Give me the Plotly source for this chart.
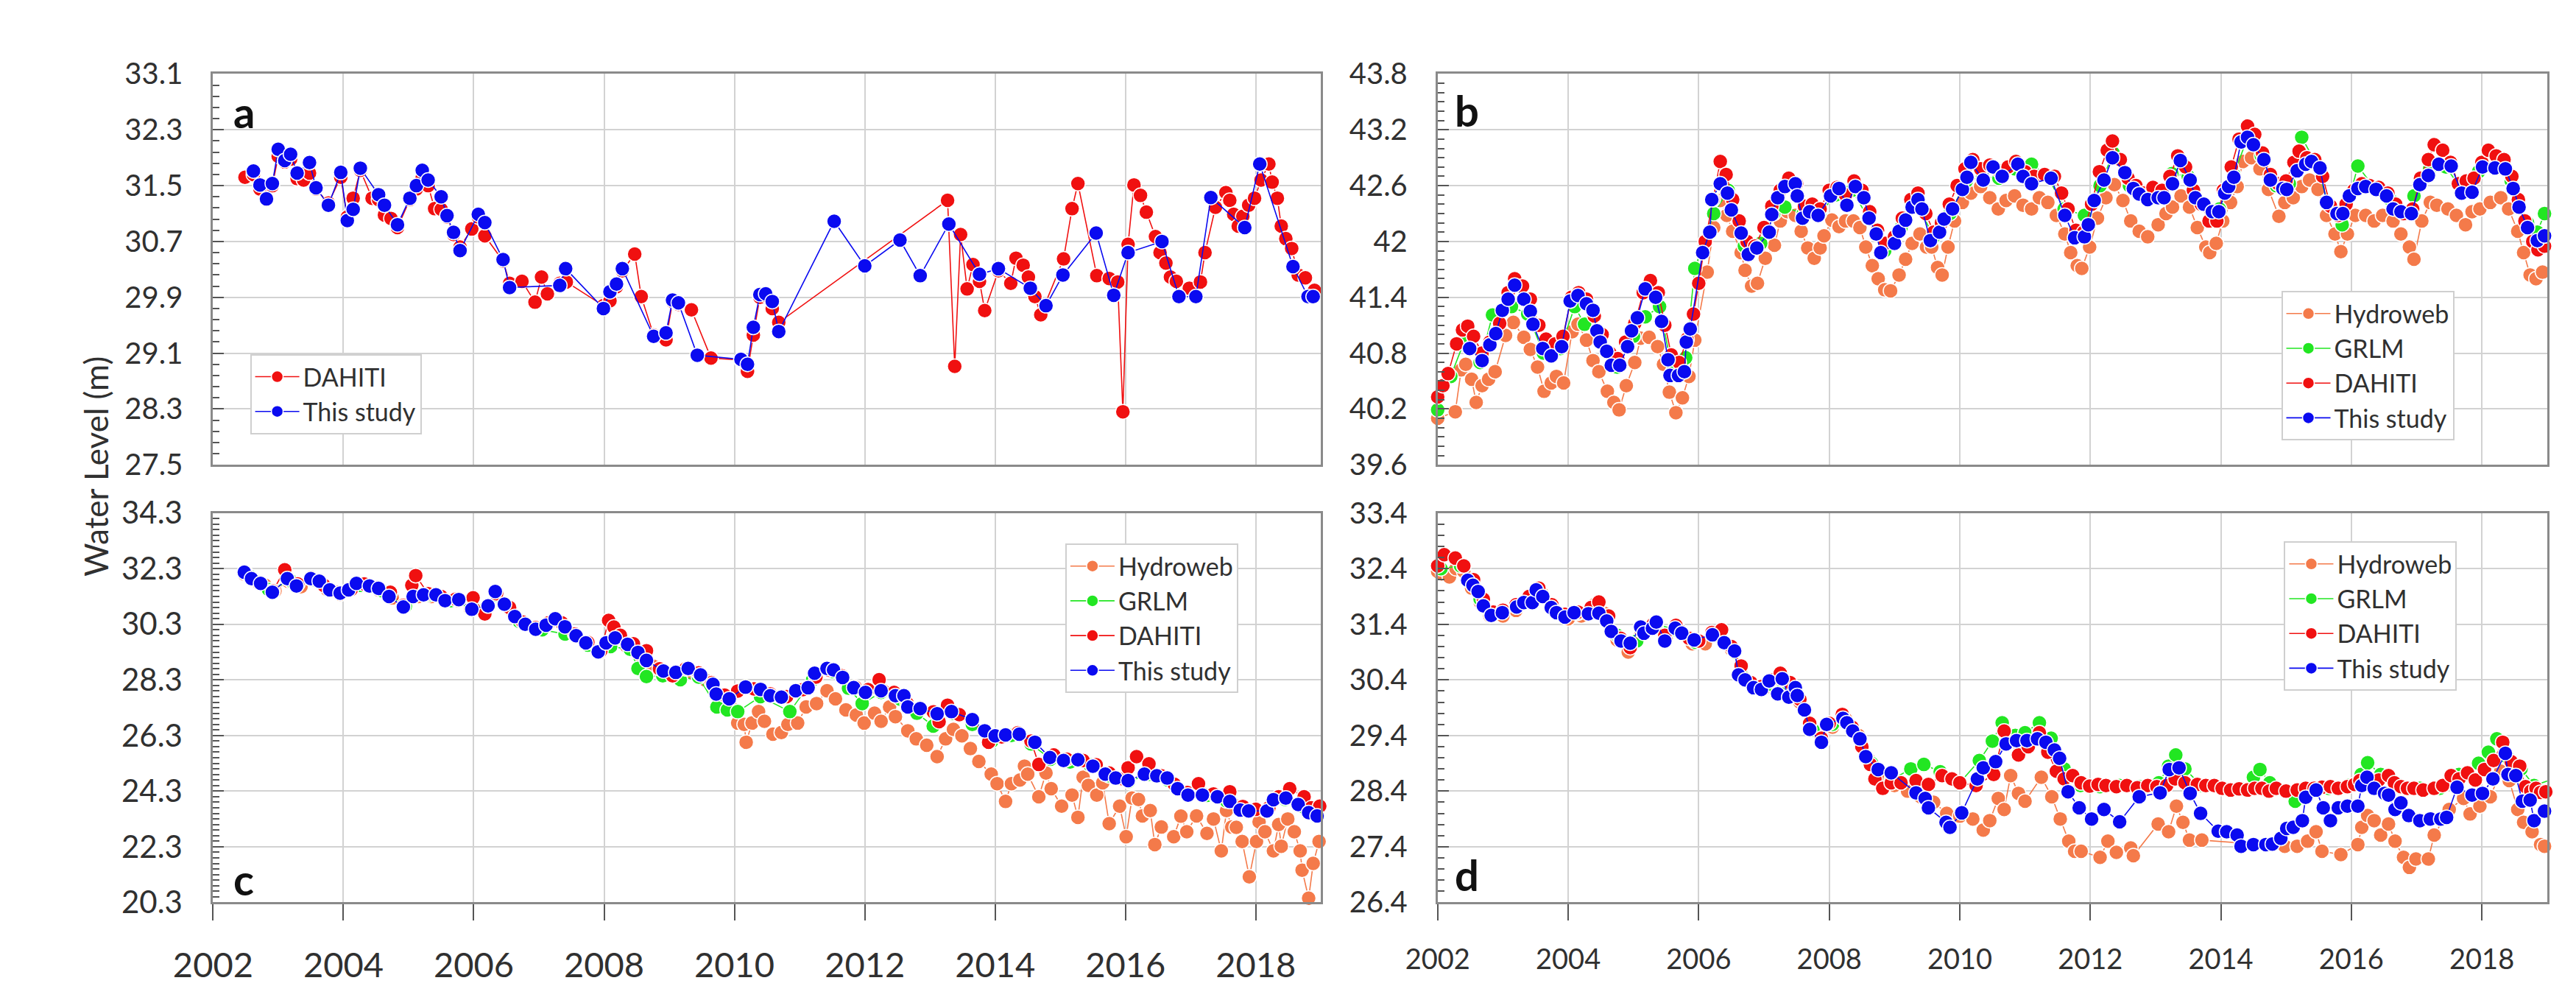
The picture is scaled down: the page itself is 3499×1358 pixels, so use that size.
import plotly.graph_objects as go

# ------------------------------------------------------------------ data
# (decimal year, water level in m)
A_DAHITI = [
    (2002.49, 31.62), (2002.62, 31.66), (2002.72, 31.45), (2002.82, 31.30), (2002.91, 31.50),
    (2003.00, 31.92), (2003.10, 31.84), (2003.19, 31.88), (2003.29, 31.60), (2003.39, 31.58),
    (2003.48, 31.68), (2003.58, 31.45), (2003.77, 31.25), (2003.96, 31.62), (2004.06, 31.05),
    (2004.15, 31.32), (2004.26, 31.72), (2004.44, 31.32), (2004.54, 31.30), (2004.63, 31.08),
    (2004.73, 31.03), (2004.83, 30.90), (2005.02, 31.30), (2005.12, 31.45), (2005.21, 31.62),
    (2005.30, 31.50), (2005.40, 31.17), (2005.50, 31.16), (2005.59, 31.05), (2005.69, 30.80),
    (2005.79, 30.62), (2005.97, 30.88), (2006.07, 31.05), (2006.17, 30.78), (2006.45, 30.42),
    (2006.55, 30.10), (2006.74, 30.13), (2006.94, 29.83), (2007.04, 30.19), (2007.13, 29.95),
    (2007.32, 30.10), (2007.42, 30.12), (2007.99, 29.78), (2008.09, 29.85), (2008.19, 30.05),
    (2008.28, 30.28), (2008.47, 30.52), (2008.57, 29.91), (2008.76, 29.36), (2008.95, 29.29),
    (2009.05, 29.84), (2009.14, 29.80), (2009.34, 29.72), (2009.64, 29.03), (2010.10, 29.00),
    (2010.20, 28.84), (2010.29, 29.36), (2010.39, 29.90), (2010.48, 29.93), (2010.58, 29.74),
    (2010.68, 29.54), (2013.27, 31.29), (2013.38, 28.91), (2013.47, 30.80), (2013.57, 30.02),
    (2013.66, 30.37), (2013.76, 30.13), (2013.84, 29.71), (2014.05, 30.28), (2014.24, 30.10),
    (2014.32, 30.46), (2014.43, 30.36), (2014.51, 30.19), (2014.61, 29.91), (2014.70, 29.65),
    (2015.05, 30.45), (2015.18, 31.17), (2015.27, 31.53), (2015.56, 30.21), (2015.75, 30.17),
    (2015.88, 30.12), (2015.96, 28.26), (2016.04, 30.66), (2016.13, 31.51), (2016.23, 31.36),
    (2016.32, 31.12), (2016.46, 30.77), (2016.53, 30.54), (2016.62, 30.39), (2016.69, 30.19),
    (2016.78, 30.13), (2016.98, 30.03), (2017.15, 30.12), (2017.22, 30.54), (2017.38, 31.19),
    (2017.54, 31.40), (2017.60, 31.29), (2017.66, 31.09), (2017.73, 30.92), (2017.80, 31.06),
    (2017.89, 31.22), (2017.98, 31.32), (2018.08, 31.58), (2018.20, 31.81), (2018.25, 31.55),
    (2018.33, 31.32), (2018.39, 30.92), (2018.46, 30.74), (2018.55, 30.60), (2018.65, 30.22),
    (2018.76, 30.18), (2018.90, 30.00),
]
A_THIS = [
    (2002.62, 31.71), (2002.72, 31.51), (2002.82, 31.31), (2002.91, 31.53), (2003.00, 32.02),
    (2003.10, 31.86), (2003.19, 31.95), (2003.29, 31.68), (2003.48, 31.83), (2003.58, 31.47),
    (2003.77, 31.22), (2003.96, 31.69), (2004.06, 31.00), (2004.15, 31.16), (2004.26, 31.75),
    (2004.54, 31.37), (2004.63, 31.22), (2004.83, 30.94), (2005.02, 31.32), (2005.12, 31.50),
    (2005.21, 31.72), (2005.30, 31.58), (2005.50, 31.34), (2005.59, 31.07), (2005.69, 30.83),
    (2005.79, 30.57), (2006.07, 31.09), (2006.17, 30.97), (2006.45, 30.44), (2006.55, 30.04),
    (2007.32, 30.07), (2007.41, 30.31), (2007.99, 29.74), (2008.09, 29.98), (2008.19, 30.09),
    (2008.28, 30.31), (2008.76, 29.34), (2008.95, 29.39), (2009.05, 29.86), (2009.14, 29.82),
    (2009.43, 29.07), (2010.10, 29.01), (2010.20, 28.94), (2010.29, 29.47), (2010.39, 29.94),
    (2010.48, 29.95), (2010.58, 29.84), (2010.68, 29.41), (2011.53, 30.99), (2012.00, 30.35),
    (2012.54, 30.72), (2012.85, 30.21), (2013.29, 30.95), (2013.76, 30.23), (2014.05, 30.31),
    (2014.54, 30.03), (2014.78, 29.78), (2015.04, 30.22), (2015.55, 30.82), (2015.82, 29.93),
    (2016.04, 30.54), (2016.56, 30.70), (2016.82, 29.91), (2017.08, 29.91), (2017.31, 31.33),
    (2017.83, 30.90), (2018.06, 31.81), (2018.57, 30.34), (2018.80, 29.91), (2018.88, 29.91),
]

B_HYDROWEB = [
    (2002.00, 40.10), (2002.27, 40.17), (2002.36, 40.62), (2002.43, 40.68), (2002.52, 40.52),
    (2002.59, 40.27), (2002.68, 40.45), (2002.78, 40.52), (2002.88, 40.60), (2003.04, 40.99),
    (2003.16, 41.13), (2003.32, 40.97), (2003.42, 40.84), (2003.53, 40.65), (2003.63, 40.39),
    (2003.74, 40.48), (2003.82, 40.55), (2003.93, 40.48), (2004.06, 41.03), (2004.15, 41.11),
    (2004.28, 40.94), (2004.38, 40.72), (2004.47, 40.60), (2004.60, 40.39), (2004.70, 40.27),
    (2004.78, 40.19), (2004.89, 40.45), (2005.02, 40.70), (2005.11, 40.96), (2005.24, 40.97),
    (2005.37, 40.87), (2005.46, 40.68), (2005.55, 40.38), (2005.65, 40.16), (2005.75, 40.32),
    (2005.85, 40.55), (2005.94, 40.94), (2006.13, 41.67), (2006.23, 42.15), (2006.33, 42.44),
    (2006.43, 42.28), (2006.52, 42.11), (2006.65, 41.88), (2006.71, 41.69), (2006.81, 41.52),
    (2006.90, 41.55), (2007.02, 41.82), (2007.16, 41.96), (2007.25, 42.22), (2007.36, 42.32),
    (2007.48, 42.28), (2007.57, 42.11), (2007.67, 41.93), (2007.77, 41.82), (2007.86, 41.93),
    (2007.92, 42.06), (2008.04, 42.23), (2008.15, 42.16), (2008.25, 42.22), (2008.37, 42.22),
    (2008.47, 42.15), (2008.56, 41.94), (2008.66, 41.74), (2008.75, 41.60), (2008.85, 41.48),
    (2008.94, 41.47), (2009.07, 41.64), (2009.17, 41.81), (2009.27, 41.98), (2009.39, 42.08),
    (2009.49, 41.94), (2009.57, 41.94), (2009.66, 41.72), (2009.73, 41.64), (2009.82, 41.94),
    (2009.92, 42.22), (2010.04, 42.42), (2010.17, 42.52), (2010.32, 42.59), (2010.46, 42.47),
    (2010.59, 42.35), (2010.71, 42.44), (2010.84, 42.49), (2010.97, 42.39), (2011.10, 42.35),
    (2011.22, 42.47), (2011.35, 42.42), (2011.48, 42.28), (2011.61, 42.08), (2011.70, 41.88),
    (2011.80, 41.74), (2011.87, 41.71), (2011.99, 41.94), (2012.11, 42.25), (2012.24, 42.47),
    (2012.37, 42.61), (2012.50, 42.44), (2012.62, 42.22), (2012.75, 42.11), (2012.88, 42.05),
    (2013.04, 42.18), (2013.16, 42.30), (2013.26, 42.37), (2013.39, 42.49), (2013.52, 42.37),
    (2013.64, 42.15), (2013.77, 41.94), (2013.83, 41.88), (2013.93, 41.98), (2014.03, 42.22),
    (2014.15, 42.42), (2014.25, 42.59), (2014.34, 42.86), (2014.47, 42.90), (2014.60, 42.78),
    (2014.73, 42.56), (2014.89, 42.27), (2014.98, 42.42), (2015.11, 42.47), (2015.24, 42.59),
    (2015.36, 42.66), (2015.49, 42.56), (2015.62, 42.28), (2015.75, 42.08), (2015.84, 41.89),
    (2015.94, 42.08), (2016.06, 42.28), (2016.22, 42.28), (2016.35, 42.22), (2016.48, 42.28),
    (2016.64, 42.22), (2016.76, 42.08), (2016.89, 41.94), (2016.96, 41.81), (2017.08, 42.22),
    (2017.21, 42.42), (2017.31, 42.39), (2017.48, 42.35), (2017.61, 42.28), (2017.75, 42.18),
    (2017.85, 42.32), (2017.97, 42.35), (2018.13, 42.42), (2018.29, 42.47), (2018.41, 42.35),
    (2018.55, 42.11), (2018.64, 41.88), (2018.74, 41.64), (2018.83, 41.60), (2018.93, 41.67),
]
B_GRLM = [
    (2002.00, 40.19), (2002.20, 40.55), (2002.42, 40.95), (2002.65, 40.70), (2002.84, 41.21),
    (2003.13, 41.30), (2003.38, 41.22), (2003.62, 40.80), (2003.88, 40.85), (2004.10, 41.30),
    (2004.25, 41.11), (2004.50, 40.95), (2004.75, 40.65), (2005.00, 40.98), (2005.18, 41.19),
    (2005.40, 41.30), (2005.60, 40.60), (2005.80, 40.75), (2005.94, 41.71), (2006.23, 42.30),
    (2006.45, 42.55), (2006.70, 41.95), (2006.95, 41.98), (2007.15, 42.30), (2007.32, 42.37),
    (2007.60, 42.30), (2007.85, 42.30), (2008.10, 42.50), (2008.35, 42.55), (2008.60, 42.25),
    (2008.85, 41.90), (2009.10, 42.15), (2009.35, 42.40), (2009.60, 42.05), (2009.85, 42.30),
    (2010.10, 42.65), (2010.35, 42.70), (2010.60, 42.68), (2010.85, 42.78), (2011.10, 42.83),
    (2011.35, 42.70), (2011.60, 42.35), (2011.91, 42.28), (2012.15, 42.60), (2012.35, 42.95),
    (2012.60, 42.60), (2012.85, 42.48), (2013.10, 42.50), (2013.25, 42.73), (2013.50, 42.70),
    (2013.75, 42.40), (2013.98, 42.35), (2014.20, 42.72), (2014.40, 43.10), (2014.62, 42.92),
    (2014.85, 42.60), (2015.05, 42.62), (2015.24, 43.12), (2015.45, 42.85), (2015.65, 42.40),
    (2015.86, 42.18), (2016.10, 42.81), (2016.35, 42.58), (2016.60, 42.45), (2016.80, 42.30),
    (2016.96, 42.49), (2017.20, 42.78), (2017.45, 42.80), (2017.70, 42.55), (2017.95, 42.75),
    (2018.20, 42.80), (2018.45, 42.65), (2018.70, 42.20), (2018.85, 42.10), (2018.96, 42.30),
]
B_DAHITI = [
    (2002.00, 40.33), (2002.08, 40.45), (2002.16, 40.58), (2002.29, 40.90), (2002.38, 41.05),
    (2002.46, 41.09), (2002.55, 40.98), (2002.68, 40.80), (2002.80, 40.92), (2002.95, 41.12),
    (2003.08, 41.45), (2003.18, 41.60), (2003.30, 41.52), (2003.42, 41.38), (2003.55, 41.10),
    (2003.66, 40.95), (2003.80, 40.90), (2003.92, 40.98), (2004.05, 41.40), (2004.16, 41.45),
    (2004.28, 41.38), (2004.40, 41.20), (2004.52, 41.00), (2004.64, 40.80), (2004.76, 40.74),
    (2004.88, 40.92), (2005.02, 41.12), (2005.15, 41.45), (2005.26, 41.58), (2005.38, 41.45),
    (2005.48, 41.10), (2005.58, 40.78), (2005.70, 40.70), (2005.82, 40.95), (2005.92, 41.22),
    (2006.00, 41.55), (2006.10, 42.00), (2006.22, 42.45), (2006.33, 42.86), (2006.42, 42.72),
    (2006.52, 42.45), (2006.62, 42.22), (2006.74, 42.00), (2006.86, 41.95), (2007.00, 42.15),
    (2007.12, 42.38), (2007.25, 42.55), (2007.38, 42.68), (2007.50, 42.62), (2007.62, 42.38),
    (2007.74, 42.40), (2007.86, 42.35), (2008.00, 42.55), (2008.12, 42.58), (2008.25, 42.50),
    (2008.38, 42.65), (2008.50, 42.55), (2008.62, 42.32), (2008.74, 42.12), (2008.86, 41.98),
    (2009.00, 42.05), (2009.12, 42.25), (2009.25, 42.45), (2009.36, 42.52), (2009.48, 42.30),
    (2009.60, 42.10), (2009.72, 42.20), (2009.84, 42.40), (2009.96, 42.60), (2010.08, 42.78),
    (2010.20, 42.88), (2010.32, 42.78), (2010.46, 42.82), (2010.60, 42.76), (2010.74, 42.80),
    (2010.86, 42.86), (2011.00, 42.75), (2011.14, 42.70), (2011.30, 42.72), (2011.45, 42.70),
    (2011.56, 42.52), (2011.66, 42.35), (2011.78, 42.12), (2011.90, 42.10), (2012.02, 42.40),
    (2012.14, 42.75), (2012.26, 42.98), (2012.34, 43.08), (2012.46, 42.88), (2012.58, 42.68),
    (2012.70, 42.60), (2012.82, 42.52), (2012.96, 42.58), (2013.10, 42.55), (2013.22, 42.70),
    (2013.34, 42.92), (2013.46, 42.80), (2013.58, 42.55), (2013.70, 42.40), (2013.82, 42.22),
    (2013.94, 42.22), (2014.04, 42.55), (2014.16, 42.80), (2014.28, 43.10), (2014.41, 43.24),
    (2014.52, 43.15), (2014.64, 42.95), (2014.76, 42.72), (2014.88, 42.62), (2015.00, 42.65),
    (2015.12, 42.85), (2015.20, 42.97), (2015.32, 42.90), (2015.44, 42.88), (2015.56, 42.70),
    (2015.68, 42.38), (2015.80, 42.28), (2015.92, 42.40), (2016.04, 42.55), (2016.16, 42.62),
    (2016.28, 42.60), (2016.42, 42.58), (2016.56, 42.52), (2016.68, 42.40), (2016.80, 42.30),
    (2016.94, 42.35), (2017.06, 42.68), (2017.18, 42.88), (2017.27, 43.04), (2017.40, 42.98),
    (2017.52, 42.85), (2017.64, 42.62), (2017.76, 42.65), (2017.88, 42.68), (2018.00, 42.85),
    (2018.10, 42.98), (2018.22, 42.92), (2018.34, 42.88), (2018.46, 42.70), (2018.56, 42.45),
    (2018.66, 42.22), (2018.78, 42.00), (2018.86, 41.91), (2018.96, 41.95),
]
B_THIS = [
    (2002.49, 40.85), (2002.68, 40.72), (2002.80, 40.89), (2002.89, 41.01), (2002.99, 41.26),
    (2003.08, 41.38), (2003.18, 41.53), (2003.32, 41.38), (2003.42, 41.25), (2003.46, 41.11),
    (2003.61, 40.85), (2003.74, 40.77), (2003.90, 40.87), (2004.03, 41.36), (2004.15, 41.42),
    (2004.28, 41.33), (2004.38, 41.26), (2004.44, 41.04), (2004.49, 40.92), (2004.59, 40.82),
    (2004.66, 40.67), (2004.79, 40.67), (2004.91, 40.87), (2004.97, 41.04), (2005.06, 41.18),
    (2005.18, 41.49), (2005.34, 41.40), (2005.43, 41.14), (2005.53, 40.73), (2005.56, 40.56),
    (2005.69, 40.56), (2005.78, 40.60), (2005.81, 40.92), (2005.87, 41.06), (2006.06, 41.88),
    (2006.17, 42.10), (2006.20, 42.45), (2006.33, 42.62), (2006.44, 42.52), (2006.50, 42.34),
    (2006.65, 42.09), (2006.76, 41.86), (2006.89, 41.93), (2007.08, 42.10), (2007.12, 42.29),
    (2007.21, 42.47), (2007.32, 42.59), (2007.48, 42.62), (2007.51, 42.49), (2007.59, 42.25),
    (2007.70, 42.32), (2007.83, 42.28), (2008.02, 42.49), (2008.15, 42.57), (2008.27, 42.39),
    (2008.40, 42.59), (2008.53, 42.47), (2008.61, 42.25), (2008.72, 42.08), (2008.79, 41.88),
    (2009.00, 41.98), (2009.07, 42.11), (2009.17, 42.23), (2009.27, 42.37), (2009.36, 42.45),
    (2009.42, 42.35), (2009.55, 42.01), (2009.69, 42.10), (2009.76, 42.24), (2009.89, 42.35),
    (2010.04, 42.56), (2010.11, 42.69), (2010.17, 42.85), (2010.36, 42.66), (2010.51, 42.80),
    (2010.65, 42.70), (2010.89, 42.83), (2010.97, 42.70), (2011.10, 42.62), (2011.40, 42.68),
    (2011.61, 42.28), (2011.76, 42.04), (2011.91, 42.05), (2011.97, 42.18), (2012.06, 42.44),
    (2012.21, 42.66), (2012.34, 42.90), (2012.53, 42.74), (2012.66, 42.57), (2012.75, 42.51),
    (2012.88, 42.45), (2013.04, 42.47), (2013.13, 42.47), (2013.26, 42.62), (2013.38, 42.87),
    (2013.53, 42.66), (2013.61, 42.47), (2013.74, 42.40), (2013.87, 42.32), (2013.97, 42.32),
    (2014.06, 42.52), (2014.12, 42.59), (2014.20, 42.69), (2014.31, 43.07), (2014.41, 43.12),
    (2014.50, 43.04), (2014.66, 42.88), (2014.76, 42.66), (2014.95, 42.57), (2015.01, 42.56),
    (2015.17, 42.76), (2015.30, 42.83), (2015.39, 42.86), (2015.52, 42.79), (2015.62, 42.42),
    (2015.78, 42.30), (2015.87, 42.30), (2015.97, 42.49), (2016.10, 42.57), (2016.22, 42.59),
    (2016.38, 42.56), (2016.54, 42.49), (2016.64, 42.35), (2016.76, 42.32), (2016.92, 42.30),
    (2017.05, 42.61), (2017.18, 42.71), (2017.34, 42.83), (2017.53, 42.81), (2017.69, 42.52),
    (2017.85, 42.53), (2018.01, 42.80), (2018.20, 42.79), (2018.36, 42.78), (2018.48, 42.57),
    (2018.57, 42.37), (2018.70, 42.15), (2018.85, 42.01), (2018.96, 42.06),
]

C_HYDROWEB = [
    (2002.48, 32.10), (2002.62, 31.90), (2002.80, 31.70), (2002.95, 31.50), (2003.15, 31.85),
    (2003.35, 31.65), (2003.55, 31.88), (2003.75, 31.55), (2003.95, 31.38), (2004.15, 31.65),
    (2004.35, 31.70), (2004.55, 31.52), (2004.75, 31.25), (2004.95, 30.95), (2005.15, 31.30),
    (2005.35, 31.30), (2005.55, 31.12), (2005.75, 31.15), (2005.95, 30.85), (2006.15, 30.80),
    (2006.35, 31.40), (2006.55, 30.85), (2006.75, 30.35), (2006.95, 30.10), (2007.15, 30.30),
    (2007.35, 30.30), (2007.55, 29.90), (2007.75, 29.58), (2007.95, 29.30), (2008.15, 29.75),
    (2008.35, 29.50), (2008.55, 29.20), (2008.75, 28.80), (2008.95, 28.55), (2009.15, 28.50),
    (2009.35, 28.55), (2009.55, 28.30), (2009.75, 27.70), (2009.95, 27.30), (2010.05, 26.75),
    (2010.15, 26.70), (2010.18, 26.06), (2010.27, 26.75), (2010.37, 27.16), (2010.46, 26.81),
    (2010.59, 26.35), (2010.72, 26.41), (2010.82, 26.70), (2010.97, 26.75), (2011.10, 27.33),
    (2011.26, 27.45), (2011.42, 27.91), (2011.55, 27.62), (2011.71, 27.22), (2011.87, 27.04),
    (2011.99, 26.75), (2012.15, 27.10), (2012.25, 26.81), (2012.38, 27.33), (2012.47, 26.98),
    (2012.66, 26.47), (2012.79, 26.18), (2012.95, 25.95), (2013.11, 25.54), (2013.24, 26.18),
    (2013.36, 26.52), (2013.49, 26.29), (2013.62, 25.83), (2013.75, 25.37), (2013.94, 24.91),
    (2014.03, 24.57), (2014.16, 23.93), (2014.25, 24.57), (2014.38, 24.70), (2014.45, 25.20),
    (2014.50, 24.91), (2014.67, 24.10), (2014.78, 24.95), (2014.86, 24.39), (2015.02, 23.76),
    (2015.18, 24.16), (2015.27, 23.36), (2015.35, 24.80), (2015.43, 24.51), (2015.56, 24.16),
    (2015.65, 24.60), (2015.75, 23.13), (2015.91, 23.76), (2016.01, 22.66), (2016.10, 24.05),
    (2016.20, 24.00), (2016.26, 23.41), (2016.38, 23.60), (2016.45, 22.38), (2016.55, 23.01),
    (2016.74, 22.66), (2016.85, 23.40), (2016.94, 22.84), (2017.09, 23.41), (2017.25, 22.78),
    (2017.35, 23.30), (2017.47, 22.15), (2017.55, 23.60), (2017.63, 23.01), (2017.70, 23.00),
    (2017.79, 22.49), (2017.90, 21.22), (2018.01, 22.49), (2018.05, 23.20), (2018.14, 22.84),
    (2018.27, 22.15), (2018.35, 23.10), (2018.39, 22.32), (2018.49, 23.30), (2018.59, 22.84),
    (2018.68, 22.15), (2018.71, 21.46), (2018.81, 20.45), (2018.88, 21.70), (2018.97, 22.49),
]
C_GRLM = [
    (2002.55, 32.05), (2002.85, 31.55), (2003.20, 31.85), (2003.55, 31.90), (2003.90, 31.45),
    (2004.25, 31.70), (2004.60, 31.50), (2004.95, 30.95), (2005.30, 31.35), (2005.65, 31.15),
    (2006.00, 30.85), (2006.35, 31.35), (2006.70, 30.40), (2007.05, 30.10), (2007.40, 29.95),
    (2007.75, 29.55), (2008.10, 29.50), (2008.40, 29.40), (2008.52, 28.71), (2008.65, 28.42),
    (2008.90, 28.45), (2009.17, 28.31), (2009.45, 28.40), (2009.73, 27.33), (2009.89, 27.22),
    (2010.05, 27.16), (2010.40, 27.70), (2010.85, 27.16), (2011.20, 28.30), (2011.50, 28.60),
    (2011.75, 28.00), (2011.96, 27.45), (2012.25, 27.85), (2012.55, 27.60), (2012.80, 27.10),
    (2013.05, 26.64), (2013.35, 27.10), (2013.65, 26.70), (2013.95, 26.10), (2014.25, 26.30),
    (2014.55, 26.00), (2014.85, 25.45), (2015.15, 25.35), (2015.45, 25.25), (2015.75, 24.85),
    (2016.05, 24.65), (2016.35, 24.90), (2016.65, 24.70), (2016.95, 24.15), (2017.25, 24.15),
    (2017.55, 23.95), (2017.85, 23.60), (2018.15, 23.60), (2018.45, 24.00), (2018.75, 23.70),
    (2018.95, 23.45),
]
C_DAHITI = [
    (2002.50, 32.15), (2002.70, 31.80), (2002.92, 31.50), (2003.10, 32.26), (2003.30, 31.75),
    (2003.50, 31.98), (2003.70, 31.70), (2003.92, 31.45), (2004.12, 31.55), (2004.32, 31.75),
    (2004.52, 31.62), (2004.72, 31.45), (2004.92, 30.98), (2005.05, 31.70), (2005.11, 32.05),
    (2005.30, 31.40), (2005.50, 31.30), (2005.72, 31.20), (2005.99, 31.25), (2006.17, 30.67),
    (2006.35, 31.40), (2006.55, 30.90), (2006.75, 30.38), (2006.95, 30.18), (2007.15, 30.35),
    (2007.35, 30.35), (2007.55, 29.95), (2007.75, 29.65), (2007.95, 29.35), (2008.07, 30.44),
    (2008.15, 30.20), (2008.25, 29.90), (2008.45, 29.60), (2008.65, 29.35), (2008.85, 28.70),
    (2009.05, 28.45), (2009.25, 28.70), (2009.45, 28.55), (2009.65, 28.20), (2009.85, 27.75),
    (2010.05, 27.90), (2010.30, 27.98), (2010.55, 27.80), (2010.80, 27.70), (2011.05, 27.95),
    (2011.25, 28.40), (2011.45, 28.65), (2011.65, 28.45), (2011.85, 28.05), (2012.05, 27.95),
    (2012.22, 28.31), (2012.45, 27.85), (2012.65, 27.45), (2012.85, 27.30), (2013.05, 27.15),
    (2013.14, 26.80), (2013.27, 27.39), (2013.45, 27.05), (2013.65, 26.90), (2013.90, 26.06),
    (2014.10, 26.25), (2014.35, 26.40), (2014.55, 26.10), (2014.67, 25.26), (2014.90, 25.60),
    (2015.10, 25.45), (2015.35, 25.40), (2015.55, 25.25), (2015.75, 24.95), (2015.95, 24.75),
    (2016.04, 25.14), (2016.17, 25.54), (2016.36, 25.28), (2016.55, 24.85), (2016.75, 24.55),
    (2016.95, 24.25), (2017.12, 24.57), (2017.35, 24.20), (2017.60, 24.28), (2017.80, 23.75),
    (2018.00, 23.65), (2018.20, 23.70), (2018.35, 24.10), (2018.52, 24.39), (2018.74, 24.10),
    (2018.85, 23.70), (2018.98, 23.76),
]
C_THIS = [
    (2002.48, 32.17), (2002.59, 31.94), (2002.73, 31.77), (2002.91, 31.45), (2003.14, 31.94),
    (2003.28, 31.68), (2003.50, 31.94), (2003.63, 31.85), (2003.79, 31.54), (2003.95, 31.42),
    (2004.08, 31.54), (2004.20, 31.77), (2004.40, 31.68), (2004.54, 31.59), (2004.70, 31.30),
    (2004.92, 30.92), (2005.07, 31.30), (2005.23, 31.36), (2005.42, 31.36), (2005.56, 31.15),
    (2005.77, 31.19), (2005.97, 30.84), (2006.22, 30.96), (2006.33, 31.48), (2006.47, 31.02),
    (2006.63, 30.58), (2006.79, 30.30), (2006.95, 30.12), (2007.11, 30.27), (2007.25, 30.50),
    (2007.40, 30.21), (2007.57, 29.89), (2007.72, 29.63), (2007.91, 29.31), (2008.03, 29.63),
    (2008.17, 29.81), (2008.36, 29.58), (2008.52, 29.29), (2008.65, 29.00), (2008.91, 28.62),
    (2009.10, 28.57), (2009.29, 28.71), (2009.48, 28.48), (2009.67, 28.14), (2009.72, 27.79),
    (2009.92, 27.62), (2010.17, 28.04), (2010.40, 27.96), (2010.55, 27.73), (2010.72, 27.68),
    (2010.94, 27.91), (2011.13, 28.02), (2011.23, 28.54), (2011.42, 28.71), (2011.52, 28.66),
    (2011.66, 28.39), (2011.83, 28.02), (2012.01, 27.85), (2012.25, 27.91), (2012.47, 27.73),
    (2012.60, 27.73), (2012.66, 27.33), (2012.85, 27.27), (2013.11, 27.08), (2013.33, 27.16),
    (2013.65, 26.87), (2013.84, 26.47), (2014.00, 26.29), (2014.16, 26.32), (2014.37, 26.35),
    (2014.61, 26.06), (2014.84, 25.51), (2015.05, 25.40), (2015.27, 25.43), (2015.50, 25.20),
    (2015.69, 24.91), (2015.85, 24.77), (2016.04, 24.68), (2016.29, 24.91), (2016.48, 24.85),
    (2016.64, 24.77), (2016.80, 24.39), (2016.96, 24.16), (2017.18, 24.16), (2017.41, 24.10),
    (2017.60, 23.93), (2017.76, 23.62), (2017.89, 23.59), (2018.17, 23.59), (2018.27, 23.99),
    (2018.46, 24.05), (2018.65, 23.82), (2018.81, 23.53), (2018.94, 23.41),
]

D_HYDROWEB = [
    (2002.00, 32.35), (2002.08, 32.30), (2002.18, 32.25), (2002.28, 32.40), (2002.40, 32.35),
    (2002.52, 32.05), (2002.65, 31.80), (2002.80, 31.55), (2003.00, 31.55), (2003.20, 31.65),
    (2003.40, 31.85), (2003.60, 31.95), (2003.80, 31.65), (2004.00, 31.50), (2004.20, 31.55),
    (2004.40, 31.75), (2004.55, 31.60), (2004.75, 31.12), (2004.92, 30.90), (2005.10, 31.20),
    (2005.30, 31.35), (2005.50, 31.15), (2005.70, 31.30), (2005.90, 31.05), (2006.10, 31.05),
    (2006.30, 31.25), (2006.50, 30.95), (2006.68, 30.45), (2006.85, 30.25), (2007.00, 30.25),
    (2007.20, 30.45), (2007.40, 30.30), (2007.55, 30.00), (2007.72, 29.55), (2007.90, 29.30),
    (2008.05, 29.55), (2008.25, 29.70), (2008.45, 29.40), (2008.62, 28.95), (2008.80, 28.60),
    (2009.00, 28.50), (2009.20, 28.40), (2009.40, 28.30), (2009.60, 28.20), (2009.80, 28.00),
    (2010.00, 27.95), (2010.20, 27.90), (2010.36, 27.70), (2010.46, 27.87), (2010.59, 28.27),
    (2010.68, 28.07), (2010.78, 28.68), (2010.90, 28.36), (2011.00, 28.22), (2011.25, 28.65),
    (2011.41, 28.30), (2011.54, 27.90), (2011.67, 27.50), (2011.76, 27.32), (2011.86, 27.32),
    (2012.15, 27.21), (2012.27, 27.50), (2012.40, 27.30), (2012.62, 27.38), (2012.66, 27.24),
    (2013.04, 27.81), (2013.20, 27.67), (2013.32, 28.13), (2013.42, 27.84), (2013.52, 27.52),
    (2013.71, 27.52), (2014.98, 27.41), (2015.17, 27.41), (2015.33, 27.50), (2015.46, 27.67),
    (2015.55, 27.32), (2015.84, 27.26), (2016.10, 27.44), (2016.16, 27.75), (2016.25, 27.96),
    (2016.35, 27.87), (2016.45, 27.61), (2016.57, 27.81), (2016.67, 27.50), (2016.80, 27.21),
    (2016.89, 27.03), (2016.99, 27.18), (2017.18, 27.18), (2017.27, 27.61), (2017.50, 28.07),
    (2017.72, 28.27), (2017.82, 27.99), (2017.97, 28.13), (2018.13, 28.30), (2018.29, 28.76),
    (2018.42, 28.59), (2018.55, 28.07), (2018.64, 27.84), (2018.77, 27.67), (2018.90, 27.44),
    (2018.96, 27.41),
]
D_GRLM = [
    (2002.05, 32.40), (2002.35, 32.45), (2002.65, 31.85), (2002.95, 31.62), (2003.25, 31.75),
    (2003.55, 31.98), (2003.85, 31.60), (2004.15, 31.60), (2004.45, 31.72), (2004.75, 31.20),
    (2005.05, 31.10), (2005.35, 31.40), (2005.65, 31.30), (2005.95, 31.08), (2006.25, 31.20),
    (2006.55, 30.90), (2006.85, 30.30), (2007.15, 30.30), (2007.45, 30.20), (2007.75, 29.50),
    (2008.05, 29.60), (2008.35, 29.50), (2008.65, 28.90), (2008.95, 28.60), (2009.25, 28.80),
    (2009.45, 28.88), (2009.70, 28.75), (2010.00, 28.55), (2010.30, 28.95), (2010.50, 29.30),
    (2010.65, 29.63), (2010.85, 29.40), (2011.00, 29.45), (2011.22, 29.63), (2011.40, 29.35),
    (2011.60, 28.80), (2011.85, 28.50), (2012.15, 28.48), (2012.45, 28.50), (2012.75, 28.48),
    (2013.05, 28.55), (2013.20, 28.85), (2013.31, 29.05), (2013.45, 28.80), (2013.70, 28.50),
    (2014.00, 28.45), (2014.30, 28.45), (2014.50, 28.65), (2014.60, 28.79), (2014.75, 28.55),
    (2015.00, 28.40), (2015.14, 28.22), (2015.35, 28.40), (2015.65, 28.45), (2015.95, 28.50),
    (2016.15, 28.70), (2016.25, 28.91), (2016.45, 28.70), (2016.75, 28.50), (2017.05, 28.45),
    (2017.35, 28.45), (2017.65, 28.70), (2017.95, 28.90), (2018.10, 29.10), (2018.23, 29.34),
    (2018.40, 29.00), (2018.60, 28.80), (2018.80, 28.50), (2019.05, 28.60),
]
D_DAHITI = [
    (2002.00, 32.45), (2002.10, 32.65), (2002.27, 32.59), (2002.40, 32.45), (2002.55, 32.20),
    (2002.70, 31.85), (2002.85, 31.62), (2003.00, 31.65), (2003.20, 31.75), (2003.40, 31.90),
    (2003.55, 32.05), (2003.75, 31.75), (2003.95, 31.58), (2004.15, 31.62), (2004.35, 31.70),
    (2004.47, 31.80), (2004.62, 31.55), (2004.80, 31.15), (2004.95, 30.98), (2005.12, 31.28),
    (2005.30, 31.40), (2005.48, 31.20), (2005.65, 31.38), (2005.85, 31.15), (2006.00, 31.10),
    (2006.20, 31.25), (2006.35, 31.30), (2006.50, 31.00), (2006.65, 30.65), (2006.80, 30.35),
    (2006.96, 30.28), (2007.12, 30.40), (2007.25, 30.52), (2007.40, 30.35), (2007.55, 30.05),
    (2007.70, 29.62), (2007.88, 29.35), (2008.00, 29.62), (2008.20, 29.78), (2008.35, 29.55),
    (2008.50, 29.20), (2008.63, 28.88), (2008.70, 28.62), (2008.82, 28.45), (2008.95, 28.55),
    (2009.10, 28.55), (2009.33, 28.59), (2009.52, 28.52), (2009.73, 28.68), (2009.88, 28.62),
    (2010.00, 28.55), (2010.25, 28.50), (2010.52, 28.70), (2010.68, 29.48), (2010.90, 29.05),
    (2011.05, 29.20), (2011.22, 29.45), (2011.35, 29.10), (2011.48, 28.76), (2011.60, 28.62),
    (2011.73, 28.68), (2011.86, 28.55), (2011.99, 28.49), (2012.12, 28.52), (2012.24, 28.50),
    (2012.40, 28.48), (2012.56, 28.50), (2012.72, 28.46), (2012.88, 28.50), (2013.02, 28.48),
    (2013.17, 28.50), (2013.30, 28.62), (2013.45, 28.55), (2013.64, 28.52), (2013.77, 28.50),
    (2013.90, 28.50), (2014.02, 28.45), (2014.15, 28.42), (2014.28, 28.44), (2014.41, 28.42),
    (2014.52, 28.45), (2014.63, 28.45), (2014.74, 28.40), (2014.85, 28.45), (2015.00, 28.40),
    (2015.17, 28.42), (2015.30, 28.45), (2015.43, 28.45), (2015.55, 28.47), (2015.68, 28.48),
    (2015.80, 28.45), (2015.94, 28.48), (2016.05, 28.52), (2016.13, 28.59), (2016.28, 28.62),
    (2016.42, 28.60), (2016.57, 28.68), (2016.66, 28.55), (2016.76, 28.48), (2016.86, 28.45),
    (2016.96, 28.45), (2017.10, 28.42), (2017.27, 28.45), (2017.40, 28.50), (2017.53, 28.68),
    (2017.65, 28.62), (2017.78, 28.73), (2017.90, 28.60), (2018.04, 28.79), (2018.18, 28.95),
    (2018.32, 29.28), (2018.45, 28.93), (2018.58, 28.85), (2018.67, 28.48), (2018.75, 28.40),
    (2018.83, 28.45), (2018.90, 28.38), (2018.98, 28.39),
]
D_THIS = [
    (2002.46, 32.19), (2002.54, 32.10), (2002.62, 31.99), (2002.70, 31.73), (2002.82, 31.56),
    (2002.99, 31.61), (2003.21, 31.71), (2003.32, 31.79), (2003.45, 31.79), (2003.51, 32.02),
    (2003.61, 31.90), (2003.74, 31.70), (2003.82, 31.61), (2003.95, 31.53), (2004.09, 31.61),
    (2004.31, 31.59), (2004.47, 31.60), (2004.59, 31.46), (2004.66, 31.27), (2004.81, 31.10),
    (2004.95, 31.06), (2005.11, 31.35), (2005.16, 31.24), (2005.29, 31.33), (2005.35, 31.44),
    (2005.48, 31.10), (2005.64, 31.33), (2005.74, 31.24), (2005.93, 31.12), (2006.21, 31.21),
    (2006.39, 31.07), (2006.55, 30.92), (2006.61, 30.49), (2006.71, 30.40), (2006.84, 30.26),
    (2006.96, 30.23), (2007.08, 30.38), (2007.21, 30.15), (2007.28, 30.42), (2007.38, 30.09),
    (2007.48, 30.26), (2007.51, 30.12), (2007.62, 29.86), (2007.70, 29.51), (2007.88, 29.28),
    (2007.96, 29.60), (2008.21, 29.71), (2008.27, 29.63), (2008.36, 29.48), (2008.47, 29.34),
    (2008.56, 29.02), (2008.75, 28.79), (2008.95, 28.73), (2009.33, 28.37), (2009.47, 28.27),
    (2009.52, 28.10), (2009.79, 27.84), (2009.85, 27.75), (2010.03, 28.01), (2010.27, 28.62),
    (2010.36, 28.82), (2010.55, 28.93), (2010.71, 29.25), (2010.87, 29.31), (2011.03, 29.31),
    (2011.19, 29.34), (2011.32, 29.28), (2011.45, 29.14), (2011.53, 28.99), (2011.66, 28.39),
    (2011.83, 28.10), (2012.02, 27.90), (2012.21, 28.07), (2012.45, 27.85), (2012.75, 28.30),
    (2013.07, 28.37), (2013.21, 28.79), (2013.36, 28.82), (2013.53, 28.36), (2013.69, 28.00),
    (2013.96, 27.68), (2014.09, 27.67), (2014.25, 27.61), (2014.31, 27.41), (2014.50, 27.44),
    (2014.69, 27.44), (2014.79, 27.45), (2014.92, 27.55), (2015.01, 27.73), (2015.11, 27.75),
    (2015.25, 27.87), (2015.30, 28.29), (2015.46, 28.42), (2015.57, 28.10), (2015.68, 27.87),
    (2015.80, 28.10), (2015.94, 28.13), (2016.10, 28.13), (2016.16, 28.50), (2016.24, 28.65),
    (2016.35, 28.45), (2016.51, 28.36), (2016.57, 28.33), (2016.67, 28.07), (2016.76, 28.19),
    (2016.88, 27.96), (2017.05, 27.87), (2017.21, 27.90), (2017.37, 27.90), (2017.46, 27.93),
    (2017.62, 28.47), (2017.85, 28.33), (2018.01, 28.36), (2018.17, 28.62), (2018.36, 29.08),
    (2018.40, 28.70), (2018.52, 28.68), (2018.62, 28.22), (2018.74, 28.24), (2018.80, 27.87),
    (2018.96, 28.04),
]

X_TICKS = [2002, 2004, 2006, 2008, 2010, 2012, 2014, 2016, 2018]
X_LABELS = ["2002", "2004", "2006", "2008", "2010", "2012", "2014", "2016", "2018"]
A_YTICKS = [27.5, 28.3, 29.1, 29.9, 30.7, 31.5, 32.3, 33.1]
B_YTICKS = [39.6, 40.2, 40.8, 41.4, 42.0, 42.6, 43.2, 43.8]
B_YLABELS = ["39.6", "40.2", "40.8", "41.4", "42", "42.6", "43.2", "43.8"]
C_YTICKS = [20.3, 22.3, 24.3, 26.3, 28.3, 30.3, 32.3, 34.3]
D_YTICKS = [26.4, 27.4, 28.4, 29.4, 30.4, 31.4, 32.4, 33.4]

# ------------------------------------------------------------------ style
W, H = 3499, 1358
FONT = "Lato, 'Open Sans', sans-serif"
TXT = "#303030"
GRID = "#D2D2D2"
FRAME = "#8A8A8A"
COL_HYDRO = "#F47A4A"
COL_GRLM = "#22E622"
COL_DAHITI = "#F01010"
COL_THIS = "#0A0AF0"

fig = go.Figure()


def add_series(pairs, name, color, xa, ya, legend):
    xs = [p[0] for p in pairs]
    ys = [p[1] for p in pairs]
    fig.add_trace(go.Scatter(
        x=xs, y=ys, mode="lines+markers", name=name,
        line=dict(color=color, width=1.6),
        marker=dict(color=color, size=20, line=dict(color="white", width=1.5)),
        xaxis=xa, yaxis=ya, legend=legend, cliponaxis=False,
    ))


add_series(A_DAHITI, "DAHITI", COL_DAHITI, "x", "y", "legend")
add_series(A_THIS, "This study", COL_THIS, "x", "y", "legend")

add_series(B_HYDROWEB, "Hydroweb", COL_HYDRO, "x2", "y2", "legend2")
add_series(B_GRLM, "GRLM", COL_GRLM, "x2", "y2", "legend2")
add_series(B_DAHITI, "DAHITI", COL_DAHITI, "x2", "y2", "legend2")
add_series(B_THIS, "This study", COL_THIS, "x2", "y2", "legend2")

add_series(C_HYDROWEB, "Hydroweb", COL_HYDRO, "x3", "y3", "legend3")
add_series(C_GRLM, "GRLM", COL_GRLM, "x3", "y3", "legend3")
add_series(C_DAHITI, "DAHITI", COL_DAHITI, "x3", "y3", "legend3")
add_series(C_THIS, "This study", COL_THIS, "x3", "y3", "legend3")

add_series(D_HYDROWEB, "Hydroweb", COL_HYDRO, "x4", "y4", "legend4")
add_series(D_GRLM, "GRLM", COL_GRLM, "x4", "y4", "legend4")
add_series(D_DAHITI, "DAHITI", COL_DAHITI, "x4", "y4", "legend4")
add_series(D_THIS, "This study", COL_THIS, "x4", "y4", "legend4")

XL = [230 / W, 1759 / W]
XR = [1920 / W, 3451 / W]
YT = [1 - 620 / H, 1 - 69 / H]
YB = [1 - 1237 / H, 1 - 688 / H]


def xaxis(domain, anchor, labels, fsize):
    d = dict(domain=domain, anchor=anchor, range=[2002, 2019],
             tickmode="array", tickvals=X_TICKS, ticktext=X_LABELS,
             showgrid=True, gridcolor=GRID, gridwidth=2,
             showline=True, linecolor=FRAME, linewidth=3, mirror=True,
             zeroline=False, fixedrange=True)
    if labels:
        d.update(ticks="outside", ticklen=22, tickwidth=2, tickcolor="#555555",
                 showticklabels=True, ticklabelstandoff=20,
                 tickfont=dict(family=FONT, size=fsize, color=TXT))
    else:
        d.update(ticks="", showticklabels=False)
    return d


def yaxis(domain, anchor, rng, vals, texts, minor_step, fsize):
    return dict(domain=domain, anchor=anchor, range=rng,
                tickmode="array", tickvals=vals, ticktext=texts,
                ticks="inside", ticklen=15, tickwidth=2, tickcolor="#555555",
                minor=dict(ticks="inside", ticklen=9, tickwidth=2, tickcolor="#555555",
                           tick0=rng[0], dtick=minor_step, showgrid=False),
                showgrid=True, gridcolor=GRID, gridwidth=2,
                showline=True, linecolor=FRAME, linewidth=3, mirror=True,
                zeroline=False, fixedrange=True, ticklabelstandoff=30,
                tickfont=dict(family=FONT, size=fsize, color=TXT))


def legend_box(x, y):
    return dict(x=x, y=y, xanchor="left", yanchor="top", xref="paper", yref="paper",
                bgcolor="white", bordercolor="#CFCFCF", borderwidth=2,
                font=dict(family=FONT, size=34, color=TXT),
                itemwidth=60, tracegroupgap=0, itemsizing="trace")


fig.update_layout(
    width=W, height=H,
    margin=dict(l=0, r=0, t=0, b=0, pad=0),
    paper_bgcolor="white", plot_bgcolor="white",
    font=dict(family=FONT, color=TXT),
    xaxis=xaxis(XL, "y", False, 36),
    yaxis=yaxis(YT, "x", [27.5, 33.1], A_YTICKS, [f"{v:.1f}" for v in A_YTICKS], 0.16, 40),
    xaxis2=xaxis(XR, "y2", False, 36),
    yaxis2=yaxis(YT, "x2", [39.6, 43.8], B_YTICKS, B_YLABELS, 0.1, 40),
    xaxis3=xaxis(XL, "y3", True, 47),
    yaxis3=yaxis(YB, "x3", [20.3, 34.3], C_YTICKS, [f"{v:.1f}" for v in C_YTICKS], 0.2, 42),
    xaxis4=xaxis(XR, "y4", True, 38),
    yaxis4=yaxis(YB, "x4", [26.4, 33.4], D_YTICKS, [f"{v:.1f}" for v in D_YTICKS], 0.2, 40),
    legend=legend_box(281 / W, 1 - 464 / H),
    legend2=legend_box(3084 / W, 1 - 375 / H),
    legend3=legend_box(1406 / W, 1 - 731 / H),
    legend4=legend_box(3088 / W, 1 - 728 / H),
)

letters = [("a", 256, 122), ("b", 1942, 120), ("c", 256, 1204), ("d", 1942, 1198)]
for txt, px, py in letters:
    fig.add_annotation(text=f"<b>{txt}</b>", x=px / W, y=1 - py / H, xref="paper", yref="paper",
                       xanchor="left", yanchor="middle", showarrow=False,
                       font=dict(family=FONT, size=58, color="#111111"))

fig.add_annotation(text="Water Level (m)", x=68 / W, y=1 - 622 / H, xref="paper", yref="paper",
                   xanchor="center", yanchor="middle", showarrow=False, textangle=-90,
                   font=dict(family=FONT, size=44, color=TXT))

fig.write_html("out.html")
